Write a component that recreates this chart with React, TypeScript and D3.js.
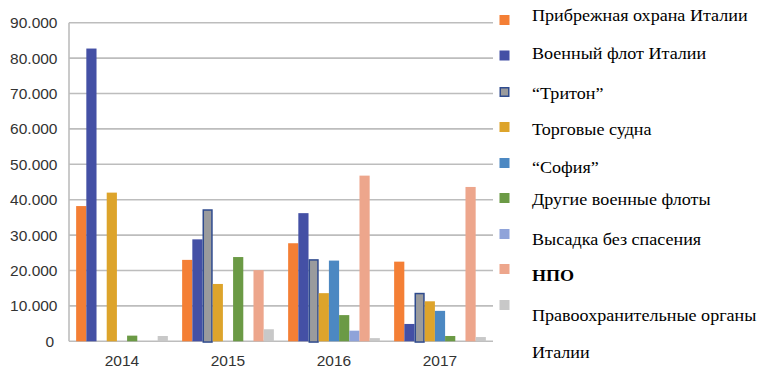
import React from "react";
import * as d3 from "d3";

const years = ["2014", "2015", "2016", "2017"];
const seriesNames = [
  "Прибрежная охрана Италии",
  "Военный флот Италии",
  "“Тритон”",
  "Торговые судна",
  "“София”",
  "Другие военные флоты",
  "Высадка без спасения",
  "НПО",
  "Правоохранительные органы Италии",
];
const coastGuard = [38200, 23000, 27700, 22500];
const navy = [82700, 28800, 36200, 4900];
const triton = [0, 37300, 23200, 13700];
const merchant = [42000, 16200, 13600, 11300];
const sophia = [0, 0, 22800, 8600];
const otherNavies = [1600, 23800, 7400, 1500];
const unassisted = [0, 0, 3000, 0];
const ngo = [0, 20100, 46800, 43600];
const police = [1500, 3400, 900, 1200];
const seriesValues = [coastGuard, navy, triton, merchant, sophia, otherNavies, unassisted, ngo, police];
const yTicks = [0, 10000, 20000, 30000, 40000, 50000, 60000, 70000, 80000, 90000];
const tickLabels = ["0", "10.000", "20.000", "30.000", "40.000", "50.000", "60.000", "70.000", "80.000", "90.000"];

const fills = ["#F47F35", "#4450A5", "#9A9B9D", "#DDA42B", "#4C88C2", "#6B9A45", "#8FA3D9", "#EDA68C", "#C8C8C8"];
const strokes = [null, null, "#2F4B8E", null, null, null, null, null, null];

const legendLines = [
  { text: "Прибрежная охрана Италии", y: 20.7, bold: false },
  { text: "Военный флот Италии", y: 59, bold: false },
  { text: "“Тритон”", y: 99.3, bold: false },
  { text: "Торговые судна", y: 135, bold: false },
  { text: "“София”", y: 173.3, bold: false },
  { text: "Другие военные флоты", y: 205, bold: false },
  { text: "Высадка без спасения", y: 245, bold: false },
  { text: "НПО", y: 280.7, bold: true },
  { text: "Правоохранительные органы", y: 320.7, bold: false },
  { text: "Италии", y: 358.3, bold: false },
];
const legendSquareY = [20, 55.5, 92, 127, 163, 198, 234, 269, 305];

export default function App() {
  const W = 776, H = 378;
  const left = 69, right = 493, top = 22.7, bottom = 341.3;
  const x0 = d3.scaleBand<string>().domain(years).range([left, right]).padding(0);
  const x1 = d3.scaleBand<string>().domain(seriesNames).range([0, x0.bandwidth()]).paddingInner(0).paddingOuter(0.7);
  const y = d3.scaleLinear().domain([0, 90000]).range([bottom, top]);
  const axisFont = "Liberation Sans";
  const legendFont = "Liberation Serif";

  return (
    <svg width={W} height={H} style={{ position: "absolute", left: 0, top: 0, background: "#fff" }}>
      {yTicks.map((t, i) => (
        <g key={t}>
          <line x1={left} x2={right} y1={y(t)} y2={y(t)} stroke="#BDBDBD" strokeWidth={1.6} />
          <text x={t === 0 ? 54 : 57.5} y={y(t)} dy="0.36em" textAnchor="end" style={{ fontFamily: axisFont }} fontSize={15.5} fill="#333">
            {tickLabels[i]}
          </text>
        </g>
      ))}
      <line x1={left} x2={left} y1={top} y2={bottom} stroke="#BDBDBD" strokeWidth={1.6} />
      {years.map((yr, yi) => (
        <g key={yr}>
          {seriesNames.map((s, si) => {
            const v = seriesValues[si][yi];
            if (!v) return null;
            const bx = (x0(yr) as number) + (x1(s) as number);
            const bw = x1.bandwidth();
            const st = strokes[si];
            if (st) {
              return (
                <rect key={s} x={bx + 0.75} y={y(v) + 0.75} width={bw - 1.5} height={bottom - y(v)}
                  fill={fills[si]} stroke={st} strokeWidth={1.5} />
              );
            }
            return <rect key={s} x={bx} y={y(v)} width={bw} height={bottom - y(v)} fill={fills[si]} />;
          })}
          <text x={(x0(yr) as number) + x0.bandwidth() / 2} y={360.5} dy="0.36em" textAnchor="middle"
            style={{ fontFamily: axisFont }} fontSize={15.5} fill="#333">{yr}</text>
        </g>
      ))}
      {legendSquareY.map((ly, i) => (
        <rect key={i} x={strokes[i] ? 500.25 : 499.5} y={ly - 5 + (strokes[i] ? 0.75 : 0)}
          width={strokes[i] ? 8.5 : 10} height={strokes[i] ? 8.5 : 10}
          fill={fills[i]} stroke={strokes[i] || "none"} strokeWidth={strokes[i] ? 1.5 : 0} />
      ))}
      {legendLines.map((l, i) => (
        <text key={i} transform={`translate(532,${l.y}) scale(1.13,1)`} x={0} y={0}
          style={{ fontFamily: legendFont }} fontSize={16} fontWeight={l.bold ? "bold" : "normal"} fill="#000">
          {l.text}
        </text>
      ))}
    </svg>
  );
}
